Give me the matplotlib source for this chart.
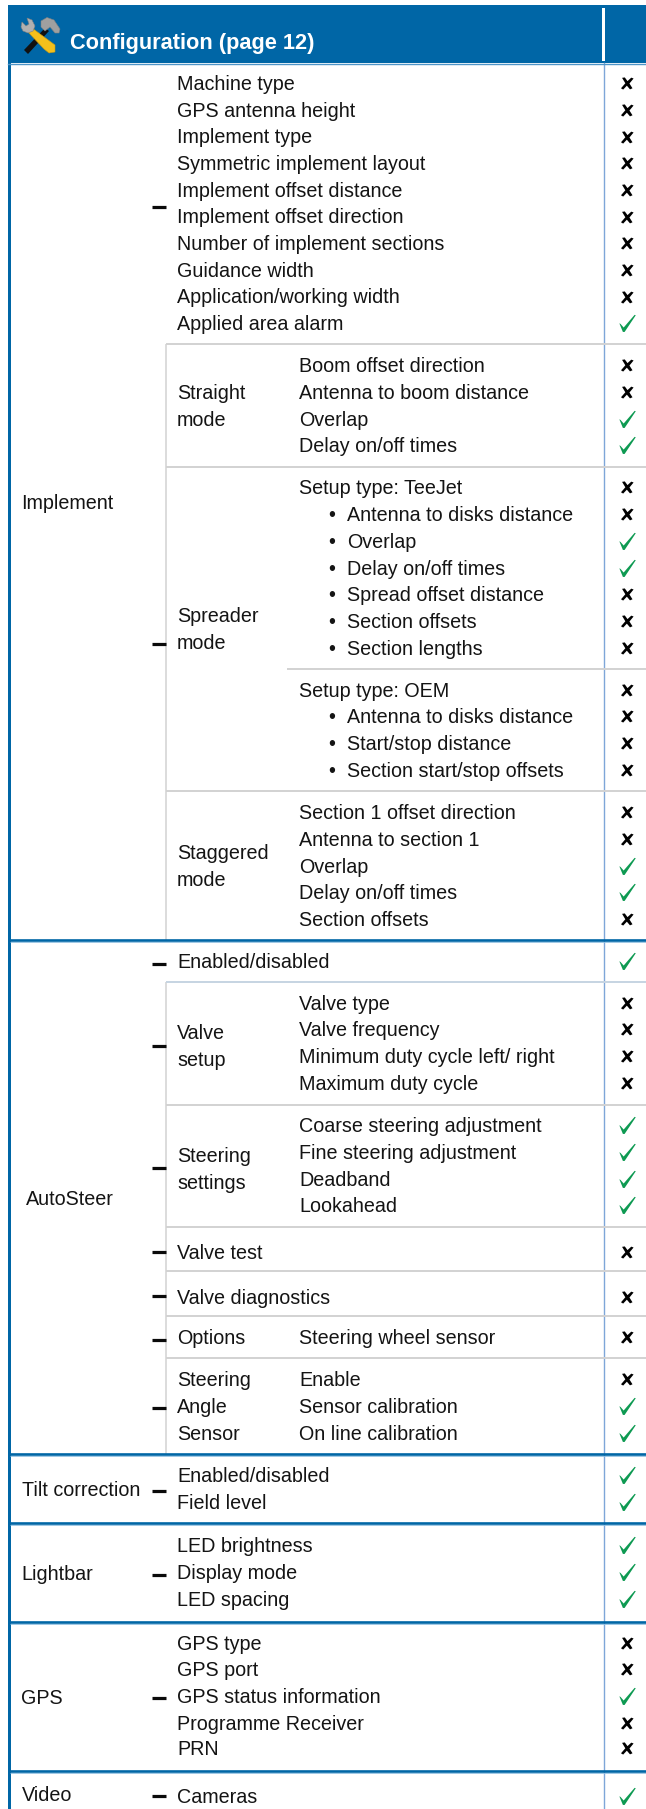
import matplotlib
matplotlib.use("Agg")
import matplotlib.pyplot as plt
from matplotlib.path import Path
from matplotlib.patches import Polygon, Rectangle

plt.rcParams['font.family'] = ['Liberation Sans', 'DejaVu Sans']

# ---- content ----
title = "Configuration (page 12)"
row_labels = [
    "Machine type", "GPS antenna height", "Implement type", "Symmetric implement layout",
    "Implement offset distance", "Implement offset direction", "Number of implement sections",
    "Guidance width", "Application/working width", "Applied area alarm",
    "Boom offset direction", "Antenna to boom distance", "Overlap", "Delay on/off times",
    "Setup type: TeeJet", "Antenna to disks distance", "Overlap", "Delay on/off times",
    "Spread offset distance", "Section offsets", "Section lengths",
    "Setup type: OEM", "Antenna to disks distance", "Start/stop distance", "Section start/stop offsets",
    "Section 1 offset direction", "Antenna to section 1", "Overlap", "Delay on/off times", "Section offsets",
    "Enabled/disabled",
    "Valve type", "Valve frequency", "Minimum duty cycle left/ right", "Maximum duty cycle",
    "Coarse steering adjustment", "Fine steering adjustment", "Deadband", "Lookahead",
    "Valve test", "Valve diagnostics", "Steering wheel sensor",
    "Enable", "Sensor calibration", "On line calibration",
    "Enabled/disabled", "Field level",
    "LED brightness", "Display mode", "LED spacing",
    "GPS type", "GPS port", "GPS status information", "Programme Receiver", "PRN",
    "Cameras",
]
row_supported = [
    0, 0, 0, 0, 0, 0, 0, 0, 0, 1,
    0, 0, 1, 1,
    0, 0, 1, 1, 0, 0, 0,
    0, 0, 0, 0,
    0, 0, 1, 1, 0,
    1,
    0, 0, 0, 0,
    1, 1, 1, 1,
    0, 0, 0,
    0, 1, 1,
    1, 1,
    1, 1, 1,
    0, 0, 1, 0, 0,
    1,
]
group_labels = ["Implement", "AutoSteer", "Tilt correction", "Lightbar", "GPS", "Video"]
mode_labels = ["Straight", "mode", "Spreader", "mode", "Staggered", "mode", "Valve", "setup",
               "Steering", "settings", "Options", "Steering", "Angle", "Sensor"]

# ---- layout (pixels of the 646x1809 picture) ----
row_y = [83.3, 110, 136.7, 163.3, 190, 216.7, 243.3, 270, 296.7, 323.3,
         365, 392, 419, 445,
         487, 514, 541, 568, 594, 621, 648,
         690, 716, 743, 770,
         812, 839, 866, 892, 919,
         961,
         1003, 1029, 1056, 1083,
         1125, 1152, 1179, 1205,
         1252, 1297, 1337,
         1379, 1406, 1433,
         1475, 1502,
         1545, 1572, 1599,
         1643, 1669, 1696, 1723, 1748,
         1796]
row_x = [177] * 10 + [299] * 4 + [299] + [347] * 6 + [299] + [347] * 3 + [299] * 5 + [177] \
    + [299] * 8 + [177, 177, 299] + [299] * 3 + [177] * 11
bullet_rows = list(range(15, 21)) + list(range(22, 25))
group_x = [21.5, 25.5, 21.5, 21.5, 21.5, 21.5]
group_y = [502, 1198, 1489, 1573, 1697, 1794]
mode_y = [392, 419, 615, 642, 852, 879, 1032, 1059, 1155, 1182, 1337, 1379, 1406, 1433]
dash_y = [207, 644, 964, 1046, 1168, 1252, 1296, 1340, 1408, 1491, 1575, 1698, 1796]
blue_lines = [940, 1454, 1523, 1622, 1771]
gray_lines = [344, 467, 791, 1105, 1227, 1271, 1316, 1358]
BLUE = "#0066a6"
GRAY = "#d2d2d2"
GREEN = "#0e9a52"
INK = "#141414"
FS = 14.2
BASE = 6.6

check = Path([(-8.5, 0.2), (-7.3, -0.4), (-4, -4.2), (7.4, 9), (8.6, 8.6), (-3, -8.8), (-4.8, -8.8), (-8.5, 0.2)], closed=True)
cross = Path([(-5, 5.2), (-2.5, 5.6), (0, 2.2), (3.5, 5.4), (5.6, 4.6), (1.8, 0), (4.6, -4.4), (2.3, -5.4),
              (-0.6, -2), (-4, -5.6), (-6, -4.4), (-2, 0.2), (-5, 5.2)], closed=True)

fig = plt.figure(figsize=(6.46, 18.09), dpi=100, facecolor="white")
ax = fig.add_axes([0, 0, 1, 1])
ax.set_xlim(0, 646)
ax.set_ylim(1809, 0)
ax.axis("off")

# header band
ax.add_patch(Rectangle((8, 5), 638, 58, fc=BLUE, ec="none"))
ax.add_patch(Rectangle((602, 8), 3, 53, fc="white", ec="none"))
ax.add_patch(Rectangle((8, 5), 2.5, 1804, fc=BLUE, ec="none"))
ax.plot([604, 604], [63, 1809], color="#7ea6d8", lw=1.0)
ax.plot([8, 646], [63.5, 63.5], color="#4f95c8", lw=1.0)

# inner grey rules
for a, b in [(344, 940), (982, 1454)]:
    ax.plot([165.7, 165.7], [a, b], color=GRAY, lw=1.1, solid_capstyle="butt")
for y in gray_lines:
    ax.plot([165.7, 646], [y, y], color=GRAY, lw=1.4, solid_capstyle="butt")
ax.plot([287, 646], [669, 669], color=GRAY, lw=1.4, solid_capstyle="butt")
ax.plot([165.7, 646], [982, 982], color="#c6d4e2", lw=1.4, solid_capstyle="butt")
for y in blue_lines:
    ax.plot([8, 646], [y, y], color=BLUE, lw=1.9, solid_capstyle="butt")
    ax.plot([10, 646], [y + 1.8, y + 1.8], color="#8fbfe0", lw=0.6, solid_capstyle="butt")

# icon: crossed wrench and hammer
ax.add_patch(Polygon([(24, 50), (28, 54), (49, 31), (45, 28)], fc="#111111", ec="none"))
ax.add_patch(Polygon([(41, 21), (47, 17.5), (54, 20), (60, 29), (59, 33), (55, 33), (50, 27), (45, 31), (41, 27)],
                     fc="#a0a0a0", ec="#808080", lw=0.4))
ax.add_patch(Polygon([(28, 32), (32, 28), (55, 45), (55, 52), (49, 53), (44, 49)], fc="#f4c01c", ec="#c99a10", lw=0.4))
ax.add_patch(Polygon([(21, 27), (22, 22), (26, 26), (29, 24), (27, 18), (32, 20), (35, 26), (33, 31), (28, 33), (23, 31)],
                     fc="#b0b0b0", ec="#808080", lw=0.4))

ax.text(70, 48.5, title, color="white", fontsize=15.7, fontweight="bold", va="baseline", ha="left")

# dashes
for y in dash_y:
    ax.plot([152, 165.5], [y, y], color="#0a0a0a", lw=2.3, solid_capstyle="butt")

# text columns
for lab, x, y in zip(group_labels, group_x, group_y):
    ax.text(x, y + BASE, lab, fontsize=FS, color=INK, va="baseline", ha="left")
for lab, y in zip(mode_labels, mode_y):
    ax.text(177, y + BASE, lab, fontsize=FS, color=INK, va="baseline", ha="left")
for lab, x, y in zip(row_labels, row_x, row_y):
    ax.text(x, y + BASE, lab, fontsize=FS, color=INK, va="baseline", ha="left")
for i in bullet_rows:
    ax.text(332, row_y[i] + BASE, "•", fontsize=FS, color=INK, va="baseline", ha="center")

# support marks
xs_yes = [627 for s in row_supported if s]
ys_yes = [y for y, s in zip(row_y, row_supported) if s]
xs_no = [627 for s in row_supported if not s]
ys_no = [y for y, s in zip(row_y, row_supported) if not s]
ax.scatter(xs_yes, ys_yes, marker=check, s=155, color=GREEN, linewidths=0)
ax.scatter(xs_no, ys_no, marker=cross, s=88, color="#000000", linewidths=0)

fig.savefig("out.png", dpi=100, facecolor="white")
